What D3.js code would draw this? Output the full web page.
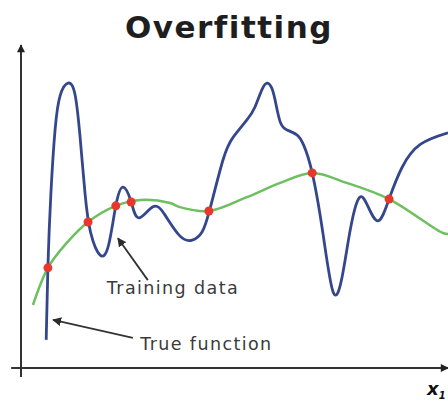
<!DOCTYPE html>
<html>
<head>
<meta charset="utf-8">
<script src="https://cdn.jsdelivr.net/npm/d3@7"></script>
<style>
  body { margin: 0; background: #fff; }
  svg { display: block; }
</style>
</head>
<body>
<svg id="chart" width="448" height="407"></svg>
<script>
// true function (green), sampled
var trueX = [0.28, 0.63, 1.03, 1.57, 2.22, 2.79, 3.49, 3.72, 4.40, 5.29, 6.07, 6.82, 7.63, 8.62, 9.88, 10.0];
var trueY = [1.95, 3.10, 3.81, 4.52, 5.02, 5.20, 5.11, 4.98, 4.86, 5.29, 5.73, 6.04, 5.73, 5.23, 4.18, 4.15];

// overfit model (blue), sampled
var fitX = [0.59, 0.63, 0.70, 0.80, 0.92, 1.10, 1.26, 1.38, 1.50, 1.63, 1.85, 2.05, 2.22, 2.39, 2.58, 2.76,
            3.09, 3.37, 3.72, 4.01, 4.24, 4.43, 4.73, 4.97, 5.29, 5.48, 5.64, 5.76, 5.86, 5.95, 6.07, 6.23, 6.46, 6.62, 6.82,
            7.07, 7.31, 7.52, 7.71, 7.92, 8.13, 8.37, 8.62, 8.92, 9.35, 10.0];
var fitY = [0.87, 3.13, 5.40, 7.40, 8.45, 8.82, 8.50, 7.20, 5.40, 4.20, 3.50, 3.80, 5.02, 5.60, 5.14, 4.65,
            4.99, 4.74, 4.09, 3.96, 4.21, 4.95, 6.44, 7.15, 7.68, 8.08, 8.61, 8.82, 8.70, 8.30, 7.62, 7.37, 7.22, 6.90, 6.04,
            4.18, 2.35, 2.82, 4.27, 5.27, 4.99, 4.56, 5.23, 6.20, 6.92, 7.28];

// training data (red)
var trainX = [0.63, 1.57, 2.22, 2.58, 4.40, 6.82, 8.62];
var trainY = [3.10, 4.52, 5.02, 5.14, 4.86, 6.04, 5.23];

// annotations: label, text position, arrow tail, arrow tip
var noteLabels = ["Training data", "True function"];
var noteText = [[2.01, 2.30], [2.79, 0.55]];
var noteTail = [[2.97, 2.72], [2.62, 0.93]];
var noteTip = [[2.27, 4.02], [0.75, 1.49]];

var svg = d3.select("#chart"),
    width = +svg.attr("width"),
    height = +svg.attr("height");

var x = d3.scaleLinear().domain([0, 10]).range([21, 448]);
var y = d3.scaleLinear().domain([0, 10]).range([368, 45]);

var defs = svg.append("defs");
defs.append("marker")
    .attr("id", "head")
    .attr("viewBox", "0 0 10 10")
    .attr("refX", 9).attr("refY", 5)
    .attr("markerWidth", 5).attr("markerHeight", 5)
    .attr("markerUnits", "strokeWidth")
    .attr("orient", "auto")
  .append("path")
    .attr("d", "M0,0L10,5L0,10z")
    .attr("fill", "#2b2b2b");
defs.append("marker")
    .attr("id", "axhead")
    .attr("viewBox", "0 0 10 10")
    .attr("refX", 9).attr("refY", 5)
    .attr("markerWidth", 4.5).attr("markerHeight", 4)
    .attr("markerUnits", "strokeWidth")
    .attr("orient", "auto")
  .append("path")
    .attr("d", "M0,0L10,5L0,10z")
    .attr("fill", "#222");

// title
svg.append("text")
    .attr("x", 229).attr("y", 38)
    .attr("text-anchor", "middle")
    .attr("font-family", "DejaVu Sans, sans-serif")
    .attr("font-weight", 700)
    .attr("font-size", "31px")
    .attr("letter-spacing", "1.5px")
    .attr("fill", "#1e1e1e")
    .text("Overfitting");

// axes
svg.append("line")
    .attr("x1", x(0)).attr("y1", y(-0.28))
    .attr("x2", x(0)).attr("y2", y(10))
    .attr("stroke", "#333").attr("stroke-width", 2)
    .attr("marker-end", "url(#axhead)");
svg.append("line")
    .attr("x1", x(-0.23)).attr("y1", y(0))
    .attr("x2", x(10)).attr("y2", y(0))
    .attr("stroke", "#333").attr("stroke-width", 2)
    .attr("marker-end", "url(#axhead)");

var xl = svg.append("text")
    .attr("x", 427).attr("y", 395)
    .attr("font-family", "DejaVu Sans, sans-serif")
    .attr("font-weight", 700)
    .attr("font-style", "italic")
    .attr("font-size", "18px")
    .attr("fill", "#111");
xl.append("tspan").text("x");
xl.append("tspan").attr("dy", 4).attr("font-size", "10px").text("1");

var line = d3.line()
    .x(function(d) { return x(d[0]); })
    .y(function(d) { return y(d[1]); });

svg.append("path")
    .datum(d3.zip(trueX, trueY))
    .attr("d", line.curve(d3.curveCatmullRom.alpha(0.5)))
    .attr("fill", "none")
    .attr("stroke", "#6dbf5f")
    .attr("stroke-width", 2.5);

svg.append("path")
    .datum(d3.zip(fitX, fitY))
    .attr("d", line.curve(d3.curveNatural))
    .attr("fill", "none")
    .attr("stroke", "#34478d")
    .attr("stroke-width", 2.8)
    .attr("stroke-linejoin", "round");

svg.selectAll(".pt")
    .data(d3.zip(trainX, trainY))
    .enter().append("circle")
    .attr("class", "pt")
    .attr("cx", function(d) { return x(d[0]); })
    .attr("cy", function(d) { return y(d[1]); })
    .attr("r", 4.5)
    .attr("fill", "#e8382c");

// annotations
noteLabels.forEach(function(lbl, i) {
    svg.append("line")
        .attr("x1", x(noteTail[i][0])).attr("y1", y(noteTail[i][1]))
        .attr("x2", x(noteTip[i][0])).attr("y2", y(noteTip[i][1]))
        .attr("stroke", "#333").attr("stroke-width", 1.8)
        .attr("marker-end", "url(#head)");
    svg.append("text")
        .attr("x", x(noteText[i][0])).attr("y", y(noteText[i][1]))
        .attr("font-family", "DejaVu Sans, sans-serif")
        .attr("font-size", "17.5px")
        .attr("letter-spacing", "1.4px")
        .attr("fill", "#3a3a3a")
        .text(lbl);
});
</script>
</body>
</html>
